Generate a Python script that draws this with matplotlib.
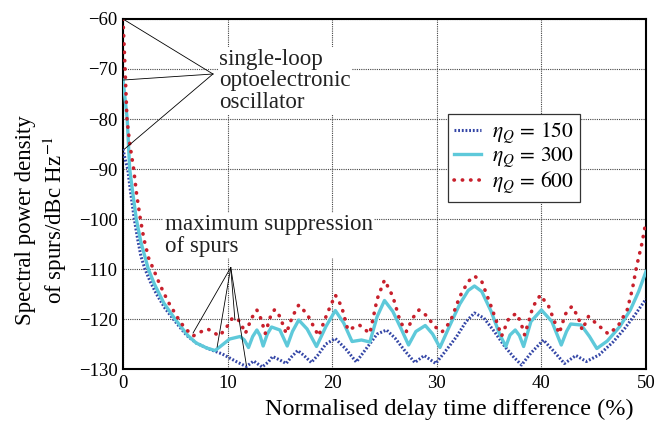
import matplotlib
matplotlib.use('Agg')
import matplotlib.pyplot as plt

plt.rcParams['font.family'] = ['Liberation Serif', 'DejaVu Serif']
plt.rcParams['mathtext.fontset'] = 'stix'

#%% Data
x_150 = [0, 0.2, 0.45, 0.75, 1.08, 1.4, 1.72, 2.1, 2.6, 3.2, 4.0, 4.8, 5.5, 6.1, 7.0,
         8.0, 8.6, 9.5, 10.2, 11.0, 11.8, 12.5, 13.3, 13.9, 14.3, 15.0, 15.6, 16.1,
         16.7, 17.3, 18.0, 18.6, 19.4, 20.3, 21.3, 22.3, 23.3, 24.3, 25.2, 26.0,
         27.0, 27.9, 28.8, 29.9, 30.8, 31.9, 32.8, 33.6, 34.5, 35.5, 36.5, 37.3,
         38.1, 39.0, 40.2, 41.2, 42.2, 43.3, 44.3, 45.5, 46.9, 48.0, 49.0, 50.0]
y_150 = [-86, -88, -90, -95, -100, -104, -107.5, -110, -112.5, -115, -117.8, -120,
         -121.8, -123.3, -124.8, -125.8, -126.3, -127, -127.8, -128.7, -129.5,
         -128.4, -129.6, -128.6, -127.5, -128.2, -128.9, -127.6, -126.3, -127.3,
         -128.7, -127.3, -125, -123.9, -126, -128.6, -125.8, -123, -122.2, -123.8,
         -126.5, -128.7, -127.3, -128.9, -126.5, -123.5, -120.5, -118.8, -119.8,
         -122.5, -125.5, -127.5, -129.2, -126.8, -124.2, -126.5, -128.9, -127.3,
         -128.5, -127.2, -124.5, -121.8, -119, -116]

x_300 = [0, 0.2, 0.4, 0.64, 0.95, 1.27, 1.7, 2.13, 2.42, 3.0, 3.9, 4.97, 5.6, 6.2,
         7.0, 8.0, 8.8, 9.3, 10.2, 11.2, 11.6, 12.0, 12.4, 12.8, 13.1, 13.4, 13.8,
         14.2, 15.0, 15.7, 16.2, 16.8, 17.6, 18.5, 19.4, 20.3, 21.1, 21.9, 22.8,
         23.6, 24.3, 25.0, 25.8, 26.6, 27.3, 28.0, 28.9, 29.6, 30.3, 31.2, 32.2,
         33.0, 33.6, 34.3, 35.2, 36.0, 36.6, 37.0, 37.5, 37.9, 38.3, 39.0, 40.0,
         41.0, 41.9, 42.4, 42.8, 43.8, 44.6, 45.3, 46.3, 47.5, 48.5, 49.3, 50.0]
y_300 = [-72.2, -76, -80, -90, -95, -100, -104.5, -107.8, -110, -113, -116.8, -120,
         -121.7, -123.3, -124.8, -125.8, -126.3, -125.5, -124, -123.5, -124.2,
         -125.7, -123.5, -122.2, -123.3, -125.4, -123, -121.6, -122.2, -125.4,
         -122.5, -120.2, -122, -125.5, -121.5, -118.3, -120.8, -124.5, -124.2,
         -124.6, -119.5, -116.3, -118.5, -122, -125.2, -122.5, -121.3, -123,
         -125.7, -121.5, -117, -114.3, -113.4, -114.5, -118.5, -123, -125.5,
         -123.2, -122.2, -123.3, -125.5, -120.5, -118.2, -120.5, -125.2, -122.5,
         -121, -121.2, -123.5, -125.9, -124.4, -121.5, -118.2, -114.5, -110.5]

x_600 = [0, 0.1, 0.2, 0.38, 0.65, 1.02, 1.3, 1.66, 2.0, 2.45, 2.9, 3.5, 4.3, 5.3,
         5.9, 6.7, 7.4, 8.1, 8.6, 9.2, 9.8, 10.4, 10.9, 11.3, 11.7, 12.3, 12.8,
         13.2, 13.6, 14.1, 14.5, 15.0, 15.6, 16.2, 16.8, 17.6, 18.7, 19.5, 20.3,
         20.9, 21.5, 22.6, 23.6, 24.3, 25.0, 25.8, 26.5, 27.1, 27.7, 28.3, 29.0,
         29.8, 30.5, 31.3, 32.2, 33.0, 33.6, 34.3, 35.2, 36.2, 36.9, 37.6, 38.0,
         38.4, 39.2, 39.9, 40.7, 41.7, 42.3, 42.9, 43.5, 43.9, 44.5, 45.3, 46.4,
         47.3, 48.2, 48.7, 49.1, 49.6, 50.0]
y_600 = [-60, -65, -70, -80, -85, -90, -95, -100, -104, -107.8, -110, -113, -116.5,
         -120, -121.8, -123.4, -122.6, -122, -122.6, -123.4, -122, -120, -119.8,
         -121, -122.9, -119.8, -118.2, -120, -122.9, -119.5, -118.1, -119.5,
         -122.9, -119.5, -117.2, -119, -123.4, -119, -115.2, -117.5, -122.2,
         -121.2, -122.9, -116, -112.2, -115.5, -120.5, -122.5, -119.8, -118.2,
         -119.3, -121.5, -122.6, -120.5, -115.5, -112.5, -111.4, -112.5, -117.5,
         -123.4, -119.8, -118.9, -120.5, -123.2, -117.5, -115.2, -117.5, -122.9,
         -119, -117.5, -119.5, -122.2, -119.5, -121, -123, -121.5, -118.2, -114,
         -109.5, -105, -100.5]

x_ticks = [0, 10, 20, 30, 40, 50]
y_ticks = [-130, -120, -110, -100, -90, -80, -70, -60]

# annotation targets
oeo_apex = (8.6, -71)
oeo_targets = [(0, -60), (0.05, -72.2), (0.15, -86)]
spur_apex = (10.3, -109.7)
spur_targets = [(6.7, -122.8), (9.0, -125.6), (10.7, -120.2), (11.8, -129.3)]

#%% plot setup
fig = plt.figure(figsize=(6.67, 4.26), dpi=100)
ax = fig.add_axes([0.1844, 0.1338, 0.7841, 0.8216])

ax.plot(x_150, y_150, color='#3446a6', linestyle=(0, (0.6, 0.6)), linewidth=2.2,
        label=r'$\eta_Q\,=\,150$', zorder=3)
ax.plot(x_300, y_300, color='#5ec9da', linewidth=2.4,
        label=r'$\eta_Q\,=\,300$', zorder=4)
ax.plot(x_600, y_600, color='#c8202c', linestyle=(0, (0.1, 2.2)), linewidth=2.6,
        dash_capstyle='round', label=r'$\eta_Q\,=\,600$', zorder=5)

# Annotation lines
for tx, ty in oeo_targets:
    ax.plot([oeo_apex[0], tx], [oeo_apex[1], ty], color='black', lw=0.6, zorder=6)
for tx, ty in spur_targets:
    ax.plot([spur_apex[0], tx], [spur_apex[1], ty], color='black', lw=0.6, zorder=6)

ax.text(9.2, -72.4, 'single-loop\noptoelectronic\noscillator', fontsize=16.6,
        va='center', ha='left', linespacing=1.05, color='#222222',
        bbox=dict(fc='white', ec='none', pad=1))
ax.text(4.0, -103.3, 'maximum suppression\nof spurs', fontsize=16.6,
        va='center', ha='left', linespacing=1.05, color='#222222',
        bbox=dict(fc='white', ec='none', pad=1))

# Axes
ax.set_xlim(0, 50)
ax.set_ylim(-130, -60)
ax.set_xticks(x_ticks)
ax.set_yticks(y_ticks)
ax.tick_params(length=0, labelsize=13.5, pad=4)
ax.grid(True, color='#444444', linestyle=(0, (1, 1)), linewidth=0.8)
for sp in ax.spines.values():
    sp.set_linewidth(1.5)

ax.set_ylabel('Spectral power density\nof spurs/dBc Hz$^{-1}$', fontsize=16.5,
              linespacing=1.25)
ax.yaxis.set_label_coords(-0.103, 0.425)
ax.set_xlabel('Normalised delay time difference (%)', fontsize=17.5)
ax.xaxis.set_label_coords(0.624, -0.085)

# legend
leg = ax.legend(loc='upper left', bbox_to_anchor=(0.621, 0.729), borderaxespad=0,
                fontsize=15.5, fancybox=False, framealpha=1, edgecolor='#333333',
                handlelength=1.25, handletextpad=0.5, labelspacing=0.0,
                borderpad=0.3)
leg.get_frame().set_linewidth(0.9)
leg.set_zorder(10)

#%% Save figure
fig.savefig('out.png', dpi=100)
